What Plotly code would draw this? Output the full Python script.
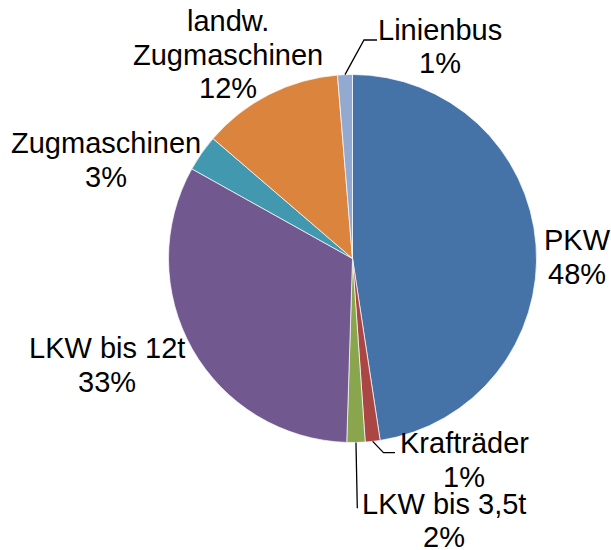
import math
import plotly.graph_objects as go

# Vehicle categories and their shares (clockwise from 12 o'clock)
categories = ["PKW", "Krafträder", "LKW bis 3,5t", "LKW bis 12t",
              "Zugmaschinen", "landw.<br>Zugmaschinen", "Linienbus"]
shares = [47.6, 1.3, 1.6, 32.6, 3.2, 12.4, 1.3]
colors = ["#4572A7", "#AA4643", "#89A54E", "#71588F",
          "#4198AF", "#DB843D", "#93A9CF"]

W, H = 611, 550
CX, CY, R = 352.5, 258.5, 184.0   # pie centre and radius in pixels

# Label block placement: (centre x, baseline of first line) in pixels
label_pos = {
    "PKW": (577, 250.5),
    "Krafträder": (464, 453.5),
    "LKW bis 3,5t": (444, 514),
    "LKW bis 12t": (106.5, 358.5),
    "Zugmaschinen": (106, 153.5),
    "landw.<br>Zugmaschinen": (228, 31.5),
    "Linienbus": (440, 40),
}
LINE_GAP = 33.4
FONT_SIZE = 29

# Leader line bends/end points (pixels), from the slice edge outwards
leaders = {
    "Linienbus": [(364, 40), (377, 40)],
    "Krafträder": [(383.5, 452.7), (395, 452.7)],
    "LKW bis 3,5t": [(357.3, 508.3)],
}


def px(x, y):
    return x / W, 1 - y / H


fig = go.Figure(go.Pie(
    labels=categories,
    values=shares,
    sort=False,
    direction="clockwise",
    rotation=0,
    textinfo="none",
    hoverinfo="label+percent",
    marker=dict(colors=colors, line=dict(color="white", width=0.7)),
    domain=dict(x=[(CX - R) / W, (CX + R) / W],
                y=[(H - CY - R) / H, (H - CY + R) / H]),
    showlegend=False,
))

total = sum(shares)
annotations = []
shapes = []
cum = 0.0
for cat, val in zip(categories, shares):
    pct = f"{round(val / total * 100)}%"
    lines = cat.split("<br>") + [pct]
    lx, base = label_pos[cat]
    for i, txt in enumerate(lines):
        # shift from baseline to the vertical middle of the text box
        ymid = base + i * LINE_GAP - 0.345 * FONT_SIZE
        x, y = px(lx, ymid)
        annotations.append(dict(
            x=x, y=y, xref="paper", yref="paper", text=txt,
            showarrow=False, xanchor="center", yanchor="middle",
            font=dict(family="Liberation Sans, Arial, sans-serif",
                      size=FONT_SIZE, color="black"),
        ))
    theta = 2 * math.pi * (cum + val / 2) / total
    if cat in leaders:
        pts = [(CX + R * math.sin(theta), CY - R * math.cos(theta))] + leaders[cat]
        path = ""
        for j, (a, b) in enumerate(pts):
            x, y = px(a, b)
            path += ("M" if j == 0 else "L") + f"{x:.5f},{y:.5f} "
        shapes.append(dict(type="path", path=path.strip(), xref="paper",
                           yref="paper", line=dict(color="black", width=1.3)))
    cum += val

fig.update_layout(
    width=W, height=H,
    margin=dict(l=0, r=0, t=0, b=0),
    paper_bgcolor="white",
    plot_bgcolor="white",
    annotations=annotations,
    shapes=shapes,
)

fig.write_html("out.html")
